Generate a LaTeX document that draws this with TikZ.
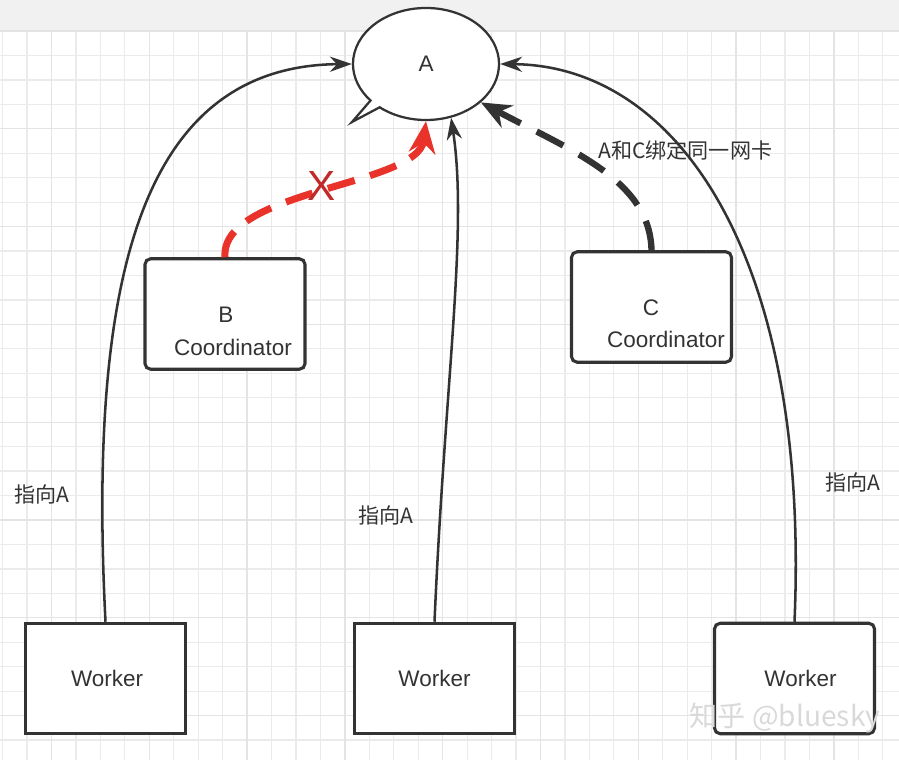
\documentclass[tikz,border=0pt]{standalone}
\usepackage{fontspec}
\setmainfont{Liberation Sans}
\newfontfamily\cjk{Noto Sans CJK SC}
\usetikzlibrary{arrows.meta,shapes.callouts,shapes.geometric}
\definecolor{ink}{HTML}{333333}
\definecolor{linered}{HTML}{E8322A}
\definecolor{crossred}{HTML}{C02A2A}
\definecolor{gridminor}{HTML}{EBEBEB}
\definecolor{gridmajor}{HTML}{E4E4E4}
\definecolor{topband}{HTML}{F1F1F1}
\tikzset{
  box/.style={draw=ink, line width=2.2pt, fill=white, minimum width=4.0cm, minimum height=2.76cm, inner sep=0pt, text=ink, font=\fontsize{16}{23}\selectfont},
  roundbox/.style={box, rounded corners=4pt},
  boxtext/.style={text=ink, font=\fontsize{16}{23}\selectfont, align=center, inner sep=0pt},
  note/.style={text=ink, font=\cjk\fontsize{15}{18}\selectfont, inner sep=0pt, anchor=west},
  link/.style={draw=ink, line width=1.8pt, -{Stealth[length=0.55cm,width=0.38cm]}},
  failpath/.style={draw=linered, line width=5pt, dash pattern=on 0.7cm off 0.4cm, -{Stealth[length=0.8cm,width=0.66cm]}},
  bindpath/.style={draw=ink, line width=4.5pt, dash pattern=on 0.75cm off 0.45cm, -{Stealth[length=0.75cm,width=0.62cm]}},
}

\begin{document}
\begin{tikzpicture}[x=0.025cm, y=-0.025cm]
  \useasboundingbox (0,0) rectangle (899,760);
  % background grid
  \fill[topband] (0,0) rectangle (899,31);
  \foreach \i in {0,...,36}
    \draw[gridminor, line width=0.9pt] ({2.6+24.45*\i},31) -- ({2.6+24.45*\i},760);
  \foreach \j in {0,...,29}
    \draw[gridminor, line width=0.9pt] (0,{31+24.45*\j}) -- (899,{31+24.45*\j});
  \foreach \i in {0,...,8}
    \draw[gridmajor, line width=0.9pt] ({51.5+97.8*\i},31) -- ({51.5+97.8*\i},760);
  \foreach \j in {0,...,7}
    \draw[gridmajor, line width=0.9pt] (0,{31+97.8*\j}) -- (899,{31+97.8*\j});

  % nodes
  \node[ellipse callout, draw=ink, line width=1.6pt, fill=white, minimum width=3.65cm, minimum height=2.8cm,
        callout absolute pointer={(352,122)}, callout pointer arc=10, text=ink, font=\fontsize{16}{16}\selectfont] (a) at (426,64) {A};
  \node[roundbox] (b) at (225,314) {};
  \node[boxtext] (btext) at (226,331.5) {B\\\hspace*{0.35cm}Coordinator};
  \node[roundbox] (c) at (651.5,307) {};
  \node[boxtext] (ctext) at (651,323.5) {C\\\hspace*{0.75cm}Coordinator};
  \node[box] (w1) at (105.5,678.5) {\hspace*{0.08cm}Worker};
  \node[box] (w2) at (434.5,678.5) {Worker};
  \node[roundbox] (w3) at (794.5,678.5) {\hspace*{0.3cm}Worker};

  % labels
  \node[note] (lbl1) at (14,494) {指向A};
  \node[note] (lbl2) at (358,515) {指向A};
  \node[note] (lbl3) at (825,482) {指向A};
  \node[note] (lblac) at (598,150) {A和C绑定同一网卡};

  % connectors
  \draw[link] (w1.north) .. controls (88,280) and (140,66) .. (a.west);
  \draw[link] (w2.north) .. controls (445,380) and (468,230) .. (a.-65);
  \draw[link] (w3.north) .. controls (810,260) and (680,66) .. (a.east);
  \draw[failpath] (b.north) .. controls (220,190) and (418,186) .. (a.south);
  \draw[bindpath] (c.north) .. controls (650,180) and (570,150) .. (a.-35);
  \node[text=crossred, font=\fontsize{30}{30}\selectfont, inner sep=0pt] (cross) at (322,186) {X};

  \node[text=gray!30, font=\cjk\fontsize{20}{20}\selectfont, inner sep=0pt] (mark) at (785,718) {知乎 @bluesky};
\end{tikzpicture}
\end{document}
